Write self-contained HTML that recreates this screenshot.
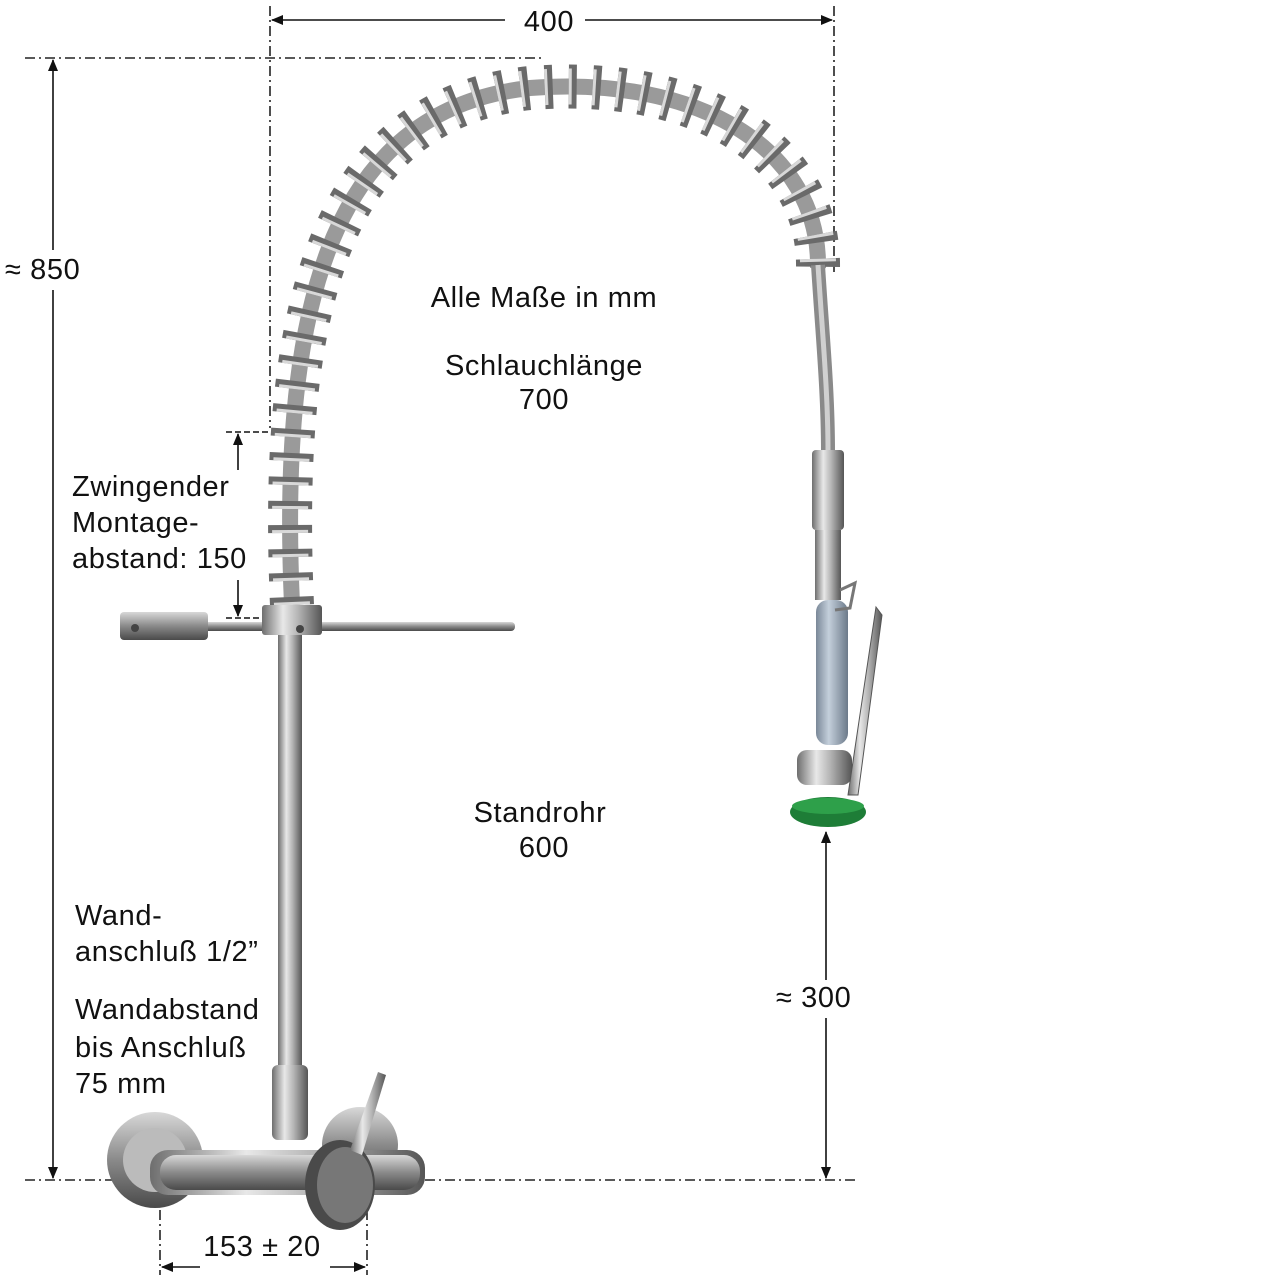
<!DOCTYPE html>
<html><head><meta charset="utf-8"><style>
html,body{margin:0;padding:0;background:#fff;}
svg{display:block;}
text{font-family:"Liberation Sans",sans-serif;fill:#111;letter-spacing:0.6px;}
</style></head><body>
<svg width="1280" height="1280" viewBox="0 0 1280 1280" xmlns="http://www.w3.org/2000/svg">
<defs>
<linearGradient id="pipe" x1="0" x2="1" y1="0" y2="0">
<stop offset="0" stop-color="#6e6e6e"/><stop offset="0.35" stop-color="#e8e8e8"/><stop offset="0.6" stop-color="#b5b5b5"/><stop offset="1" stop-color="#555"/></linearGradient>
<linearGradient id="metal" x1="0" x2="0" y1="0" y2="1">
<stop offset="0" stop-color="#d8d8d8"/><stop offset="0.5" stop-color="#8a8a8a"/><stop offset="1" stop-color="#4a4a4a"/></linearGradient>
<linearGradient id="grip" x1="0" x2="1"><stop offset="0" stop-color="#7a8898"/><stop offset="0.4" stop-color="#c4cfdb"/><stop offset="1" stop-color="#6c7a8a"/></linearGradient>
<marker id="ar" markerWidth="12" markerHeight="10" refX="11" refY="5" orient="auto" markerUnits="userSpaceOnUse"><path d="M0,0 L12,5 L0,10 z" fill="#111"/></marker>
</defs>

<g stroke="#222" stroke-width="1.6" stroke-dasharray="10 4 2 4" fill="none">
<line x1="270" y1="6" x2="270" y2="428"/>
<line x1="834" y1="6" x2="834" y2="272"/>
<line x1="25" y1="58" x2="545" y2="58"/>
<line x1="25" y1="1180" x2="855" y2="1180"/>
<line x1="160" y1="1190" x2="160" y2="1275"/>
<line x1="367" y1="1190" x2="367" y2="1275"/>
</g>

<g stroke="#111" stroke-width="1.6" fill="none">
<line x1="505" y1="20" x2="272" y2="20" marker-end="url(#ar)"/>
<line x1="585" y1="20" x2="832" y2="20" marker-end="url(#ar)"/>
<line x1="53" y1="250" x2="53" y2="60" marker-end="url(#ar)"/>
<line x1="53" y1="290" x2="53" y2="1178" marker-end="url(#ar)"/>
<line x1="826" y1="980" x2="826" y2="832" marker-end="url(#ar)"/>
<line x1="826" y1="1018" x2="826" y2="1178" marker-end="url(#ar)"/>
<line x1="200" y1="1267" x2="162" y2="1267" marker-end="url(#ar)"/>
<line x1="330" y1="1267" x2="365" y2="1267" marker-end="url(#ar)"/>
<line x1="238" y1="470" x2="238" y2="434" marker-end="url(#ar)"/>
<line x1="238" y1="580" x2="238" y2="616" marker-end="url(#ar)"/>
<line x1="226" y1="432" x2="272" y2="432" stroke-dasharray="6 3"/>
<line x1="226" y1="618" x2="262" y2="618" stroke-dasharray="6 3"/>
</g>

<rect x="278" y="632" width="24" height="445" fill="url(#pipe)"/>

<path d="M292 605 C280 330 320 110 530 88 C700 75 820 150 818 268" fill="none" stroke="#9a9a9a" stroke-width="16"/>
<path d="M292 605 C280 330 320 110 530 88 C700 75 820 150 818 268" fill="none" stroke="#6a6a6a" stroke-width="44" stroke-dasharray="8 16"/>
<path d="M292 605 C280 330 320 110 530 88 C700 75 820 150 818 268" fill="none" stroke="#d8d8d8" stroke-width="36" stroke-dasharray="3 21"/>
<path d="M818 265 C822 330 828 390 828 452" fill="none" stroke="#8a8a8a" stroke-width="14"/>
<path d="M818 265 C822 330 828 390 828 452" fill="none" stroke="#d0d0d0" stroke-width="5"/>

<rect x="120" y="622" width="395" height="9" rx="4" fill="url(#metal)"/>
<rect x="120" y="612" width="88" height="28" rx="4" fill="url(#metal)"/>
<rect x="262" y="605" width="60" height="30" rx="3" fill="url(#pipe)"/>
<circle cx="300" cy="629" r="4" fill="#444"/>
<circle cx="135" cy="628" r="4" fill="#444"/>

<rect x="812" y="450" width="32" height="80" rx="4" fill="url(#pipe)"/>
<rect x="815" y="530" width="26" height="70" fill="url(#pipe)"/>
<rect x="816" y="600" width="32" height="145" rx="12" fill="url(#grip)"/>
<path d="M840 590 L855 583 L850 608 L835 610" fill="none" stroke="#777" stroke-width="3"/>
<rect x="797" y="750" width="55" height="35" rx="10" fill="url(#pipe)"/>
<path d="M876 607 L882 615 L858 795 L848 795 Z" fill="url(#pipe)" stroke="#555" stroke-width="1"/>
<ellipse cx="828" cy="812" rx="38" ry="15" fill="#1e7d37"/>
<ellipse cx="828" cy="806" rx="36" ry="8" fill="#2ea04a"/>

<circle cx="155" cy="1160" r="48" fill="url(#metal)"/>
<circle cx="155" cy="1160" r="32" fill="#bbb"/>
<circle cx="360" cy="1145" r="38" fill="url(#metal)"/>
<rect x="150" y="1150" width="275" height="45" rx="18" fill="url(#pipe)"/>
<rect x="160" y="1155" width="260" height="35" rx="16" fill="url(#metal)"/>
<rect x="272" y="1065" width="36" height="75" rx="6" fill="url(#pipe)"/>
<ellipse cx="340" cy="1185" rx="35" ry="45" fill="#4a4a4a"/>
<ellipse cx="345" cy="1185" rx="28" ry="38" fill="#777"/>
<path d="M350 1150 L378 1072 L386 1075 L362 1155 Z" fill="url(#pipe)"/>

<g font-size="29">
<text x="549" y="31" text-anchor="middle">400</text>
<text x="5" y="279">≈ 850</text>
<text x="544" y="307" text-anchor="middle">Alle Maße in mm</text>
<text x="544" y="375" text-anchor="middle">Schlauchlänge</text>
<text x="544" y="409" text-anchor="middle">700</text>
<text x="72" y="496">Zwingender</text>
<text x="72" y="532">Montage-</text>
<text x="72" y="568">abstand: 150</text>
<text x="540" y="822" text-anchor="middle">Standrohr</text>
<text x="544" y="857" text-anchor="middle">600</text>
<text x="75" y="925">Wand-</text>
<text x="75" y="961">anschluß 1/2”</text>
<text x="75" y="1019">Wandabstand</text>
<text x="75" y="1057">bis Anschluß</text>
<text x="75" y="1093">75 mm</text>
<text x="776" y="1007">≈ 300</text>
<text x="262" y="1256" text-anchor="middle">153 ± 20</text>
</g>
</svg>
</body></html>
